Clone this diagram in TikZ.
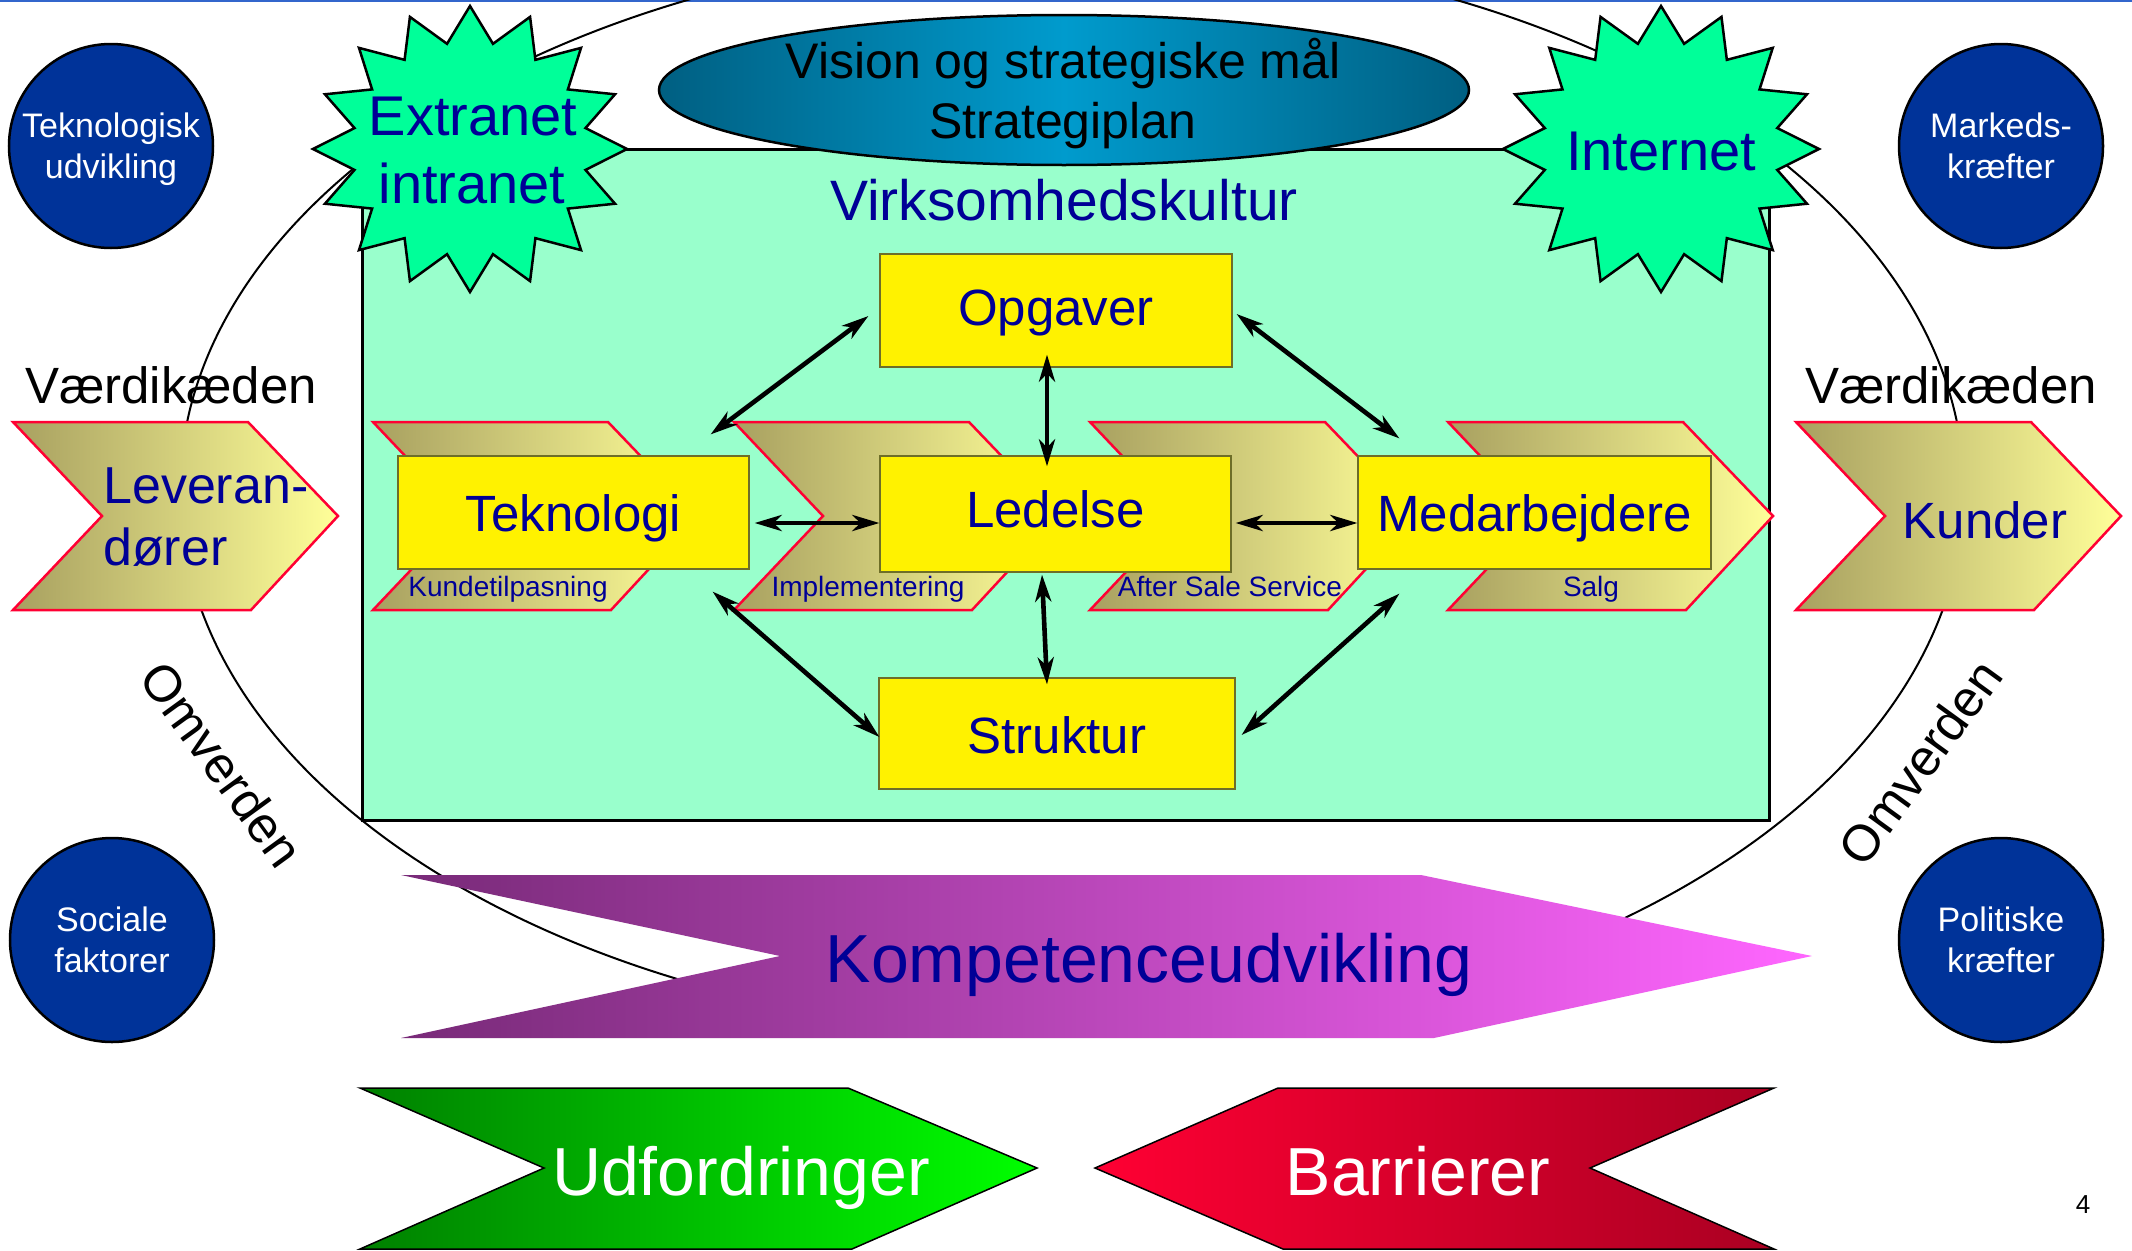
\documentclass[tikz,border=0pt]{standalone}
\usepackage{fontspec}
\setmainfont{Liberation Sans}
\usetikzlibrary{arrows.meta,shapes.geometric}
\definecolor{navy}{RGB}{0,0,150}
\definecolor{mint}{RGB}{153,255,204}
\definecolor{spring}{RGB}{0,255,153}
\definecolor{circblue}{RGB}{0,51,153}
\definecolor{olivea}{RGB}{168,160,96}
\definecolor{paley}{RGB}{255,255,153}
\definecolor{chevred}{RGB}{255,0,51}
\definecolor{tealdark}{RGB}{0,95,130}
\definecolor{tealmid}{RGB}{0,155,205}
\definecolor{purpa}{RGB}{120,42,120}
\definecolor{pinka}{RGB}{255,102,255}
\definecolor{gdark}{RGB}{0,128,0}
\definecolor{glight}{RGB}{0,255,0}
\definecolor{rbright}{RGB}{255,0,51}
\definecolor{rdark}{RGB}{170,0,34}
\definecolor{boxedge}{RGB}{110,110,40}
\definecolor{topblue}{RGB}{51,102,204}
\newcommand\myfs[1]{\fontsize{#1}{#1}\selectfont}
\newcommand\chevpath[1]{(#1,422) -- (#1+235,422) -- (#1+325,516) -- (#1+238,610) -- (#1,610) -- (#1+89,516) -- cycle}
\begin{document}
\begin{tikzpicture}[x=1pt,y=-1pt,
  starfill/.style={draw=black,line width=2.5pt,fill=spring,line join=miter},
  bluecirc/.style={circle,draw=black,line width=2.5pt,fill=circblue,minimum size=204pt,inner sep=0pt,
     text=white,align=center,font=\fontsize{34}{41}\selectfont},
  chevbox/.style={draw=chevred,line width=2.5pt,left color=olivea,right color=paley},
  ybox/.style={rectangle,draw=boxedge,line width=1.2pt,fill=yellow,inner sep=0pt,text=navy,font=\myfs{51}},
  dbl/.style={{Stealth[length=27pt,width=16pt,inset=8pt]}-{Stealth[length=27pt,width=16pt,inset=8pt]},line width=4.6pt},
  navytxt/.style={text=navy,anchor=base,inner sep=0pt},
  blacktxt/.style={text=black,anchor=base,inner sep=0pt}]
\useasboundingbox (0,0) rectangle (2132,1250);
\clip (0,0) rectangle (2132,1250);
\fill[white] (0,0) rectangle (2132,1250);
\draw[topblue,line width=2pt] (0,1) -- (2132,1);

% outer ellipse (Omverden)
\draw[line width=2pt] (1072,491) ellipse [x radius=892, y radius=544];

% Omverden labels
\node[rotate=-54,font=\myfs{51},inner sep=0pt] (omvL) at (222,764) {Omverden};
\node[rotate=54,font=\myfs{51},inner sep=0pt] (omvR) at (1920,762) {Omverden};

% corner circles
\node[bluecirc] (tekudv) at (111,146) {Teknologisk\\\smash{udvikling}};
\node[bluecirc] (marked) at (2001,146) {Markeds-\\kræfter};
\node[bluecirc] (social) at (112,940) {Sociale\\faktorer};
\node[bluecirc] (polit) at (2001,940) {Politiske\\kræfter};

% Værdikæden
\node[blacktxt,font=\myfs{51}] (vaerdiL) at (171,403) {Værdikæden};
\node[blacktxt,font=\myfs{51}] (vaerdiR) at (1951,403) {Værdikæden};

% green culture rectangle
\draw[line width=3pt,fill=mint] (362,149) rectangle (1769,820);

% stars
\draw[starfill] plot[variable=\k,samples at={0,...,31}]
  ({470+157*ifthenelse(mod(\k,2)==0,1,0.75)*cos(90+11.25*\k)},
   {149-143*ifthenelse(mod(\k,2)==0,1,0.75)*sin(90+11.25*\k)}) -- cycle;
\draw[starfill] plot[variable=\k,samples at={0,...,31}]
  ({1661+158*ifthenelse(mod(\k,2)==0,1,0.75)*cos(90+11.25*\k)},
   {149-143*ifthenelse(mod(\k,2)==0,1,0.75)*sin(90+11.25*\k)}) -- cycle;
\node[navytxt,font=\myfs{56}] (extra) at (473,135) {Extranet};
\node[navytxt,font=\myfs{56}] (intra) at (472,203) {intranet};
\node[navytxt,font=\myfs{56}] (inter) at (1661,170) {Internet};

% vision ellipse
\node[ellipse,draw=black,line width=2.5pt,minimum width=810pt,minimum height=150pt,inner sep=0pt,
  left color=tealdark,right color=tealdark,middle color=tealmid] (vision) at (1064,90) {};
\node[blacktxt,font=\myfs{50}] (vis1) at (1063,78) {Vision og strategiske mål};
\node[blacktxt,font=\myfs{50}] (vis2) at (1063,138) {Strategiplan};

\node[navytxt,font=\myfs{57}] (kultur) at (1064,220) {Virksomhedskultur};

% value chain chevrons
\path[chevbox] \chevpath{13};
\path[chevbox] \chevpath{1796};
\path[chevbox] \chevpath{373};
\path[chevbox] \chevpath{734};
\path[chevbox] \chevpath{1090};
\path[chevbox] \chevpath{1448};
\node[navytxt,anchor=base west,font=\myfs{52}] (lev1) at (103,503) {Leveran-};
\node[navytxt,anchor=base west,font=\myfs{52}] (lev2) at (103,565) {dører};
\node[navytxt,font=\myfs{51}] (kunder) at (1985,538) {Kunder};
\node[navytxt,font=\myfs{28}] (kunde) at (508,596) {Kundetilpasning};
\node[navytxt,font=\myfs{28}] (impl) at (868,596) {Implementering};
\node[navytxt,font=\myfs{28}] (after) at (1230,596) {After Sale Service};
\node[navytxt,font=\myfs{28}] (salg) at (1591,596) {Salg};

% yellow boxes
\node[ybox,minimum width=351pt,minimum height=113pt,text height=37pt,text depth=0pt] (tek) at (573.5,512.5) {Teknologi};
\node[ybox,minimum width=351pt,minimum height=116pt,text height=37pt,text depth=9.6pt] (led) at (1055.5,514) {Ledelse};
\node[ybox,minimum width=353pt,minimum height=113pt,text height=37pt,text depth=0pt] (med) at (1534.5,512.5) {Medarbejdere};
\node[ybox,minimum width=352pt,minimum height=113pt,text height=37pt,text depth=8pt] (opg) at (1056,310.5) {Opgaver};
\node[ybox,minimum width=356pt,minimum height=111pt,text height=39pt,text depth=0pt] (str) at (1057,733.5) {Struktur};

% arrows
\draw[dbl] ([shift={(-39,-21)}]tek.north east) -- ([shift={(-11,5.5)}]opg.west);
\draw[dbl] ([shift={(-9,-13)}]opg.south) -- ([shift={(-8.5,11)}]led.north);
\draw[dbl] ([shift={(4,3.5)}]opg.east) -- ([shift={(42,-17)}]med.north west);
\draw[dbl] ([shift={(5,10.5)}]tek.east) -- ([shift={(0,9)}]led.west);
\draw[dbl] ([shift={(4,9)}]led.east) -- ([shift={(0,10.5)}]med.west);
\draw[dbl] ([shift={(-13.5,2)}]led.south) -- ([shift={(-10,7)}]str.north);
\draw[dbl] ([shift={(-37,22)}]tek.south east) -- ([shift={(1,3.5)}]str.west);
\draw[dbl] ([shift={(42,24)}]med.south west) -- ([shift={(6,1.5)}]str.east);

% Kompetenceudvikling
\path[left color=purpa,right color=pinka] (401,875) -- (1421,875) -- (1812,956) -- (1434,1038) -- (401,1038) -- (780,956) -- cycle;
\node[text=navy,anchor=base,inner sep=0pt,font=\myfs{68}] (komp) at (1149,982) {Kompetenceudvikling};

% Udfordringer / Barrierer
\path[draw=black,line width=1.5pt,left color=gdark,right color=glight] (360,1088) -- (848,1088) -- (1037,1168) -- (852,1249) -- (360,1249) -- (544,1168) -- cycle;
\path[draw=black,line width=1.5pt,left color=rbright,right color=rdark] (1095,1168) -- (1278,1088) -- (1774,1088) -- (1590,1168) -- (1774,1249) -- (1283,1249) -- cycle;
\node[text=white,anchor=base,inner sep=0pt,font=\myfs{68}] (udf) at (741,1195) {Udfordringer};
\node[text=white,anchor=base,inner sep=0pt,font=\myfs{68}] (barr) at (1418,1195) {Barrierer};

\node[blacktxt,font=\myfs{26}] (pagenum) at (2083,1213) {4};
\end{tikzpicture}
\end{document}
